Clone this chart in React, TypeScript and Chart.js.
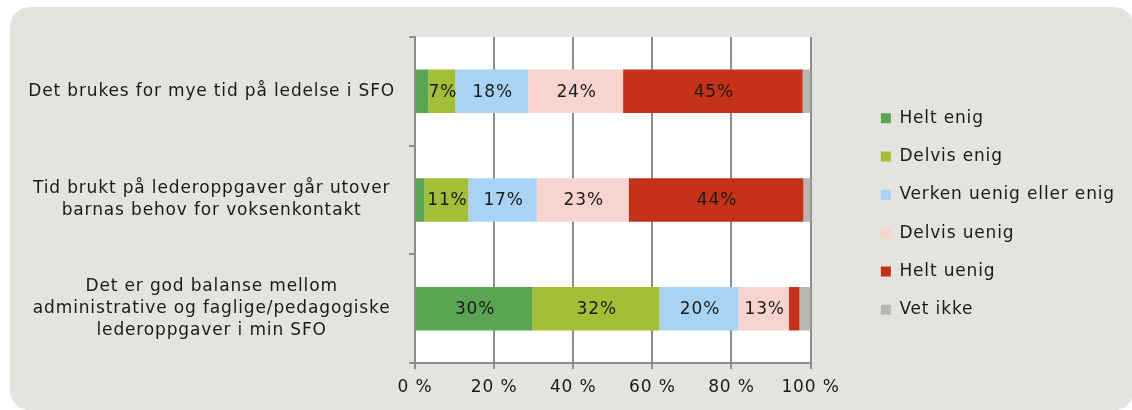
import React, { useEffect, useRef } from 'react';
import { Chart, registerables } from 'chart.js';

Chart.register(...registerables);

const categories: (string | string[])[] = [
  'Det brukes for mye tid på ledelse i SFO',
  ['Tid brukt på lederoppgaver går utover', 'barnas behov for voksenkontakt'],
  ['Det er god balanse mellom', 'administrative og faglige/pedagogiske', 'lederoppgaver i min SFO'],
];
const seriesNames = ['Helt enig', 'Delvis enig', 'Verken uenig eller enig', 'Delvis uenig', 'Helt uenig', 'Vet ikke'];
const heltEnig = [3.4, 2.4, 29.6];
const delvisEnig = [6.8, 11.1, 32.2];
const verkenUenigEllerEnig = [18.4, 17.3, 20.0];
const delvisUenig = [24.0, 23.2, 12.7];
const heltUenig = [45.4, 44.2, 2.7];
const vetIkke = [2.0, 1.8, 2.8];
const seriesValues = [heltEnig, delvisEnig, verkenUenigEllerEnig, delvisUenig, heltUenig, vetIkke];
const xTickValues = [0, 20, 40, 60, 80, 100];
const colors = ['#5AA553', '#A3BF37', '#A8D3F4', '#F9D3CE', '#C5321A', '#B9B8B0'];

const FONT = "'DejaVu Sans', Verdana, sans-serif";
const GRID = '#8E8E8E';
const TEXT = '#1A1A1A';
const SPACING = '0.85px';

const spacingPlugin = {
  id: 'spacing',
  beforeUpdate(chart: any) { chart.ctx.letterSpacing = SPACING; },
  beforeDraw(chart: any) {
    const ctx = chart.ctx;
    ctx.letterSpacing = SPACING;
    const a = chart.chartArea;
    ctx.save();
    ctx.fillStyle = '#FFFFFF';
    ctx.fillRect(a.left, a.top, a.right - a.left, a.bottom - a.top);
    ctx.restore();
  },
};

const valueLabelPlugin = {
  id: 'valueLabels',
  afterDatasetsDraw(chart: any) {
    const ctx = chart.ctx;
    ctx.save();
    ctx.letterSpacing = SPACING;
    ctx.font = `17px ${FONT}`;
    ctx.fillStyle = TEXT;
    ctx.textAlign = 'center';
    ctx.textBaseline = 'middle';
    chart.data.datasets.forEach((ds: any, i: number) => {
      const meta = chart.getDatasetMeta(i);
      meta.data.forEach((bar: any, j: number) => {
        const v = ds.data[j];
        if (v < 5) return;
        const p = bar.getProps(['x', 'y', 'base'], true);
        ctx.fillText(Math.round(v) + '%', (p.x + p.base) / 2 + 1, p.y + 1);
      });
    });
    ctx.restore();
  },
};

export default function App() {
  const ref = useRef<HTMLCanvasElement>(null);
  useEffect(() => {
    if (!ref.current) return;
    const chart = new Chart(ref.current, {
      type: 'bar',
      data: {
        labels: categories as any,
        datasets: seriesNames.map((name, i) => ({
          label: name,
          data: seriesValues[i],
          backgroundColor: colors[i],
          borderWidth: 0,
          categoryPercentage: 1,
          barPercentage: 0.4,
        })),
      },
      options: {
        indexAxis: 'y',
        responsive: false,
        animation: false,
        events: [],
        layout: { padding: { top: 37, right: 7, bottom: 4.6, left: 0 } },
        font: { family: FONT },
        scales: {
          x: {
            stacked: true,
            min: 0,
            max: 100,
            afterBuildTicks: (s: any) => { s.ticks = xTickValues.map((v) => ({ value: v })); },
            grid: { color: GRID, lineWidth: 2, tickLength: 6, tickColor: GRID },
            border: { color: GRID, width: 2 },
            ticks: {
              padding: 8,
              color: TEXT,
              font: { family: FONT, size: 17 },
              callback: (v: any) => v + ' %',
              maxRotation: 0,
            },
          },
          y: {
            stacked: true,
            grid: { offset: true, drawOnChartArea: false, tickLength: 6, color: GRID, tickColor: GRID, lineWidth: 2 },
            border: { color: GRID, width: 2 },
            ticks: {
              crossAlign: 'center',
              padding: 14,
              color: TEXT,
              font: { family: FONT, size: 17, lineHeight: 1.3 },
            },
            afterFit: (s: any) => { s.width = 415; s.paddingTop = 0; s.paddingBottom = 0; },
          },
          y2: {
            type: 'linear',
            position: 'right',
            display: true,
            grid: { display: false },
            border: { display: false },
            ticks: { display: false },
            afterFit: (s: any) => { s.width = 49; s.paddingTop = 0; s.paddingBottom = 0; },
          },
        },
        plugins: {
          tooltip: { enabled: false },
          legend: {
            position: 'right',
            align: 'start',
            maxWidth: 400,
            title: { display: true, text: '', font: { size: 10, lineHeight: 1.05 }, padding: 20.5 },
            labels: {
              boxWidth: 10,
              boxHeight: 10,
              padding: 21.3,
              color: TEXT,
              font: { family: FONT, size: 17 },
            },
          },
        },
      } as any,
      plugins: [spacingPlugin, valueLabelPlugin],
    });
    return () => chart.destroy();
  }, []);

  return (
    <div style={{ position: 'fixed', left: 0, top: 0, width: 1132, height: 410, background: '#FFFFFF', overflow: 'hidden' }}>
      <div style={{ position: 'absolute', left: 10, top: 7, width: 1124, height: 403, borderRadius: 20, background: '#E4E3DF' }} />
      <canvas ref={ref} width={1132} height={410} style={{ position: 'absolute', left: 0, top: 0, width: 1132, height: 410 }} />
    </div>
  );
}
